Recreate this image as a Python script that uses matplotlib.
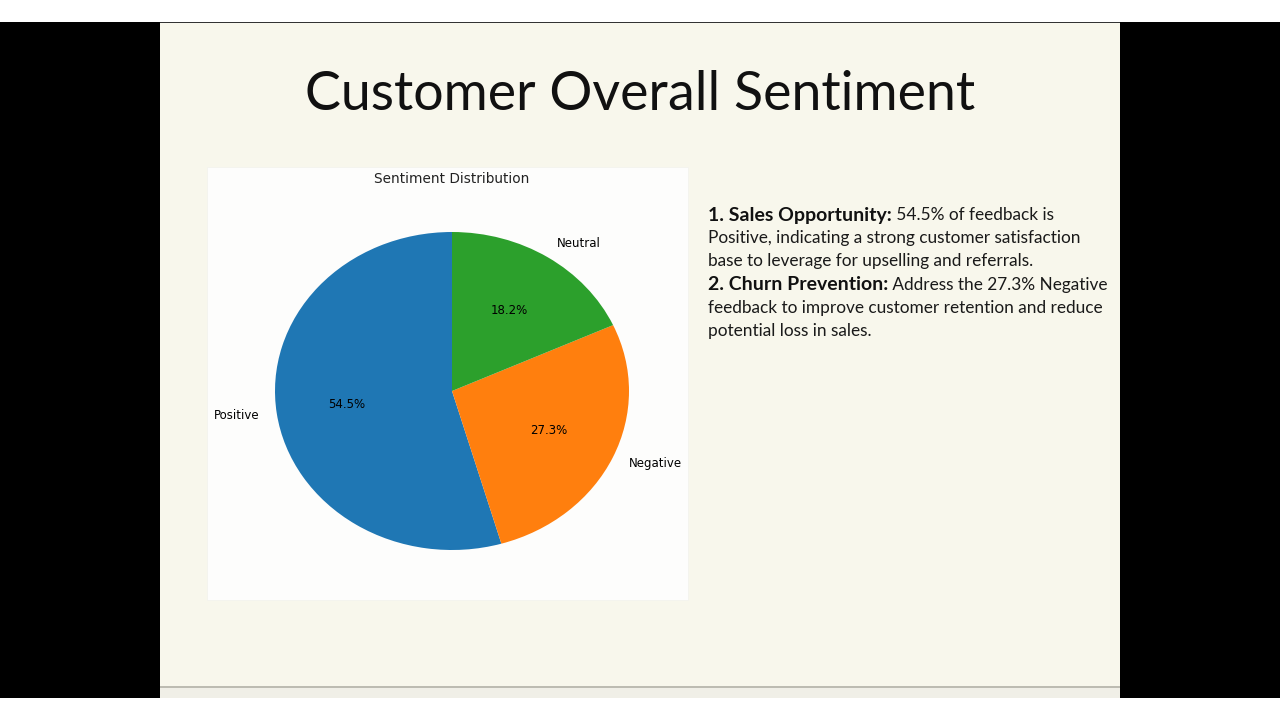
import matplotlib
matplotlib.use("Agg")
import matplotlib.pyplot as plt
from matplotlib.patches import Rectangle

# data
labels = ["Positive", "Negative", "Neutral"]
shares = [54.5, 27.3, 18.2]
colors = ["#1f77b4", "#ff7f0e", "#2ca02c"]

slide_title = "Customer Overall Sentiment"
chart_title = "Sentiment Distribution"
notes = [
    ("1. Sales Opportunity:", " 54.5% of feedback is"),
    ("", "Positive, indicating a strong customer satisfaction"),
    ("", "base to leverage for upselling and referrals."),
    ("2. Churn Prevention:", " Address the 27.3% Negative"),
    ("", "feedback to improve customer retention and reduce"),
    ("", "potential loss in sales."),
]

W, H = 1280, 720
fig = plt.figure(figsize=(12.8, 7.2), dpi=100)
fig.patch.set_facecolor("white")


def px(x, y, w, h):
    # pixel box (top-left origin) -> figure fraction
    return (x / W, 1 - (y + h) / H, w / W, h / H)


def box(x, y, w, h, **kw):
    l, b, ww, hh = px(x, y, w, h)
    fig.patches.append(Rectangle((l, b), ww, hh, transform=fig.transFigure,
                                 zorder=-5, **kw))


# frame of the screen
box(0, 22, 160, 676, color="black", lw=0)
box(1120, 22, 160, 676, color="black", lw=0)
box(160, 22, 960, 676, color="#f8f7ec", lw=0)
box(160, 22, 960, 1.2, color="#333333", lw=0)
box(160, 686, 960, 2, color="#bdbcb2", lw=0)
box(160, 688, 960, 10, color="#f0efe7", lw=0)
# white chart card
box(207, 167, 481, 433, facecolor="#fdfdfc", edgecolor="#f3f3ee", lw=0.6)

fig.text(640 / W, 1 - 94 / H, slide_title, ha="center", va="center",
         fontsize=38.7, family="Lato", color="#111111")

# pie
ax = fig.add_axes(px(275, 232, 354, 318))
ax.set_zorder(2)
ax.pie(shares, labels=labels, colors=colors, autopct="%1.1f%%",
       startangle=90, textprops={"fontsize": 8.5})
ax.set_aspect("auto")
ax.set_xlim(-1, 1)
ax.set_ylim(-1, 1)
ax.axis("off")
fig.text(452 / W, 1 - 179 / H, chart_title, ha="center", va="center",
         fontsize=9.8, color="#222222")

# notes on the right
renderer = fig.canvas.get_renderer()
y0, step = 215, 23.2
for i, (head, body) in enumerate(notes):
    y = 1 - (y0 + i * step) / H
    x = 708 / W
    if head:
        t = fig.text(x, y, head, ha="left", va="center", fontsize=14,
                     family="Lato", weight="bold", color="#111111")
        bb = t.get_window_extent(renderer)
        x = bb.x1 / W
    fig.text(x, y, body, ha="left", va="center", fontsize=12.4,
             family="Lato", color="#1a1a1a")

fig.savefig("out.png", dpi=100, facecolor=fig.get_facecolor())
